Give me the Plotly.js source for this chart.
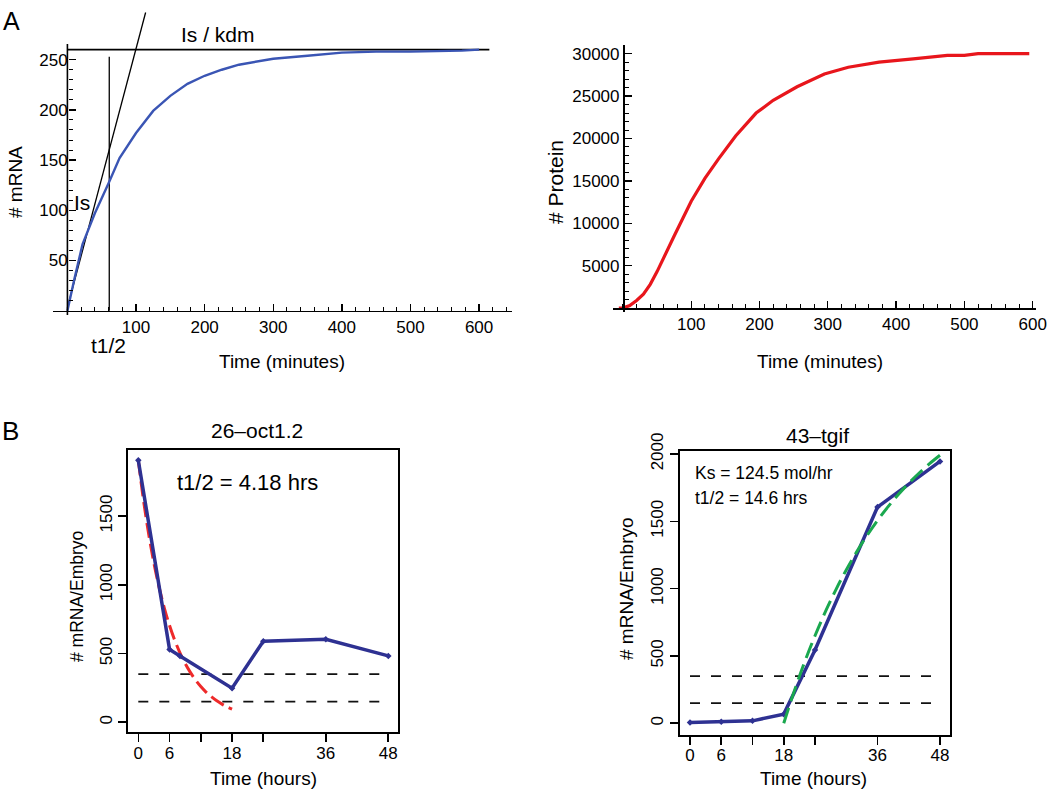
<!DOCTYPE html>
<html>
<head>
<meta charset="utf-8">
<script src="https://cdn.plot.ly/plotly-3.0.1.min.js"></script>
<style>
body{margin:0;padding:0;background:#fff;}
#chart{width:1050px;height:791px;}
</style>
</head>
<body>
<div id="chart"></div>
<script>
// A left : mRNA over time (minutes)
var mrna_time=[0,5,10,22,40,60,76,100,125,150,175,200,225,250,300,350,400,450,500,575,600];
var mrna_count=[0,16,31,66,97,127,152,177,199,214,226,234,240,245,251,254,257,258,258,259,260];
var steady_x=[0,615];
var steady_level=260;
var is_x=[0,114];
var is_y=[3,297];
var half_x=61;
var half_y=[0,253];

// A right : protein over time (minutes)
var protein_time=[-6,0,10,20,30,40,50,60,75,100,120,140,165,195,220,255,295,330,375,425,475,500,520,595];
var protein_count=[0,0,300,900,1650,2800,4300,5900,8500,12600,15300,17600,20300,23000,24500,26100,27600,28400,29000,29400,29800,29800,30000,30000];

// B left : 26-oct1.2
var oct_time=[0,6,8,18,24,36,48];
var oct_count=[1905,530,482,248,590,604,483];
var oct_fit_time=[0,1,2,3,4,5,6,7,8,9,10,11,12,13,14,15,16,17,18];
var oct_fit=[1905,1614,1367,1158,981,831,704,596,505,428,363,307,260,220,187,158,134,113,96];

// B right : 43-tgif
var tgif_time=[0,6,12,18,24,36,48];
var tgif_count=[5,12,18,68,545,1606,1945];
var tgif_fit_time=[18,20,22,24,26,28,30,32,34,36,38,40,42,44,46,48];
var tgif_fit=[0,237,454,650,829,991,1139,1273,1395,1506,1607,1699,1783,1859,1928,1991];

var dash_x=[0,46.4];
var dash_high=350;
var dash_low=150;
var hour_ticks=[0,6,12,18,24,36,48];
var hour_labels=['0','6','','18','','36','48'];
var protein_ticks=[5000,10000,15000,20000,25000,30000];

var W=1050,H=791;
function fx(p){return p/W;}
function fy(p){return 1-p/H;}
var font_name='Liberation Sans, Arial, Helvetica, sans-serif';

var mrna_minor=[];
for(var v=10;v<=260;v+=10){if(v%50!=0)mrna_minor.push(v);}

var traces=[
 {x:steady_x,y:[steady_level,steady_level],mode:'lines',line:{color:'#000',width:1.6},xaxis:'x',yaxis:'y'},
 {x:is_x,y:is_y,mode:'lines',line:{color:'#000',width:1.3},xaxis:'x',yaxis:'y'},
 {x:[half_x,half_x],y:half_y,mode:'lines',line:{color:'#000',width:1.3},xaxis:'x',yaxis:'y'},
 {x:mrna_time,y:mrna_count,mode:'lines',line:{color:'#3a55b4',width:2.4},xaxis:'x',yaxis:'y'},

 {x:protein_time,y:protein_count,mode:'lines',line:{color:'#e8161c',width:3.2},xaxis:'x2',yaxis:'y2'},

 {x:dash_x,y:[dash_high,dash_high],mode:'lines',line:{color:'#111',width:1.7,dash:'10px,11px'},xaxis:'x3',yaxis:'y3'},
 {x:dash_x,y:[dash_low,dash_low],mode:'lines',line:{color:'#111',width:1.7,dash:'10px,11px'},xaxis:'x3',yaxis:'y3'},
 {x:oct_fit_time,y:oct_fit,mode:'lines',line:{color:'#ee2a2a',width:3,dash:'15px,6px',shape:'spline'},xaxis:'x3',yaxis:'y3'},
 {x:oct_time,y:oct_count,mode:'lines+markers',line:{color:'#2e3192',width:3.5},marker:{color:'#2e3192',size:5,symbol:'diamond'},xaxis:'x3',yaxis:'y3'},

 {x:dash_x,y:[dash_high,dash_high],mode:'lines',line:{color:'#111',width:1.7,dash:'10px,11px'},xaxis:'x4',yaxis:'y4'},
 {x:dash_x,y:[dash_low,dash_low],mode:'lines',line:{color:'#111',width:1.7,dash:'10px,11px'},xaxis:'x4',yaxis:'y4'},
 {x:tgif_time,y:tgif_count,mode:'lines+markers',line:{color:'#2e3192',width:3.5},marker:{color:'#2e3192',size:5,symbol:'diamond'},xaxis:'x4',yaxis:'y4'},
 {x:tgif_fit_time,y:tgif_fit,mode:'lines',line:{color:'#1aa84f',width:3,dash:'16px,7px',shape:'spline'},xaxis:'x4',yaxis:'y4'}
];

var tick_font={family:font_name,size:17,color:'#000'};

function math_axis(extra){
  var a={showgrid:false,zeroline:false,showline:true,linecolor:'#000',linewidth:1.6,
    ticks:'inside',ticklen:7,tickwidth:1.3,tickcolor:'#000',tickfont:tick_font,
    tickmode:'array',anchor:'free',fixedrange:true};
  for(var k in extra){a[k]=extra[k];}
  return a;
}
function r_axis(extra){
  var a={showgrid:false,zeroline:false,showline:true,mirror:true,linecolor:'#000',linewidth:2,
    ticks:'outside',ticklen:8,tickwidth:1.6,tickcolor:'#000',tickfont:tick_font,tickmode:'array'};
  for(var k in extra){a[k]=extra[k];}
  return a;
}

function note(text,x,y,size,opt){
  var a={text:text,x:fx(x),y:fy(y),xref:'paper',yref:'paper',showarrow:false,
    xanchor:'center',yanchor:'middle',font:{family:font_name,size:size,color:'#000'}};
  for(var k in opt){a[k]=opt[k];}
  return a;
}

var layout={
  width:1050,height:791,showlegend:false,
  margin:{l:0,r:0,t:0,b:0},
  paper_bgcolor:'#fff',plot_bgcolor:'rgba(0,0,0,0)',
  font:{family:font_name,color:'#000'},
  xaxis:math_axis({domain:[fx(53),fx(512)],range:[-21,648],position:fy(310.7),
    tickvals:[100,200,300,400,500,600],
    minor:{tickmode:'linear',tick0:0,dtick:20,ticks:'inside',ticklen:4,tickcolor:'#000',tickwidth:1}}),
  yaxis:math_axis({domain:[fy(315),fy(8)],range:[-4.3,301.5],position:fx(67.6),showline:false,
    tickvals:[50,100,150,200,250],
    minor:{tickmode:'array',tickvals:mrna_minor,ticks:'inside',ticklen:4,tickcolor:'#000',tickwidth:1}}),
  xaxis2:math_axis({domain:[fx(613.3),fx(1035.7)],range:[-14.1,604.4],position:fy(308.1),
    tickvals:[100,200,300,400,500,600],
    minor:{tickmode:'linear',tick0:0,dtick:20,ticks:'inside',ticklen:4,tickcolor:'#000',tickwidth:1}}),
  yaxis2:math_axis({domain:[fy(311.7),fy(45)],range:[-425,31026],position:fx(622.9),
    tickvals:protein_ticks,ticktext:protein_ticks.map(String),
    minor:{tickmode:'linear',tick0:0,dtick:1000,ticks:'inside',ticklen:4,tickcolor:'#000',tickwidth:1}}),
  xaxis3:r_axis({domain:[fx(128.3),fx(398.3)],range:[-1.92,49.92],anchor:'y3',tickvals:hour_ticks,ticktext:hour_labels,ticklabelstandoff:-4}),
  yaxis3:r_axis({domain:[fy(732.3),fy(450)],range:[-72.7,1980],anchor:'x3',tickvals:[0,500,1000,1500],tickangle:-90}),
  xaxis4:r_axis({domain:[fx(680),fx(950)],range:[-1.92,49.92],anchor:'y4',tickvals:hour_ticks,ticktext:hour_labels,ticklabelstandoff:-4}),
  yaxis4:r_axis({domain:[fy(735),fy(450.7)],range:[-87,2024.5],anchor:'x4',tickvals:[0,500,1000,1500,2000],tickangle:-90}),
  shapes:[
    // y axis line of the mRNA panel, stops below the tangent line
    {type:'line',xref:'x',yref:'y',x0:0,x1:0,y0:-4.3,y1:265.6,line:{color:'#000',width:1.6}}
  ],
  annotations:[
    note('A',11,21,25),
    note('B',10,431,26),
    note('Is / kdm',218,34,21),
    note('Is',82,203,21),
    note('t1/2',108,345,21),
    note('Time (minutes)',282,361,19),
    note('# mRNA',15,182,19,{textangle:-90}),
    note('# Protein',555,182,21,{textangle:-90}),
    note('Time (minutes)',820,362,19),
    note('26\u2013oct1.2',257,430,21),
    note('t1/2 = 4.18 hrs',247,483,22),
    note('Time (hours)',263,778,19),
    note('# mRNA/Embryo',77,597,17.5,{textangle:-90}),
    note('43\u2013tgif',817,435,21),
    note('Ks = 124.5 mol/hr',693,473,17.5,{xanchor:'left'}),
    note('t1/2 = 14.6 hrs',693,498,17.5,{xanchor:'left'}),
    note('Time (hours)',813,778,19),
    note('# mRNA/Embryo',626,589,19,{textangle:-90})
  ]
};

Plotly.newPlot('chart',traces,layout,{staticPlot:true,displayModeBar:false});
</script>
</body>
</html>
